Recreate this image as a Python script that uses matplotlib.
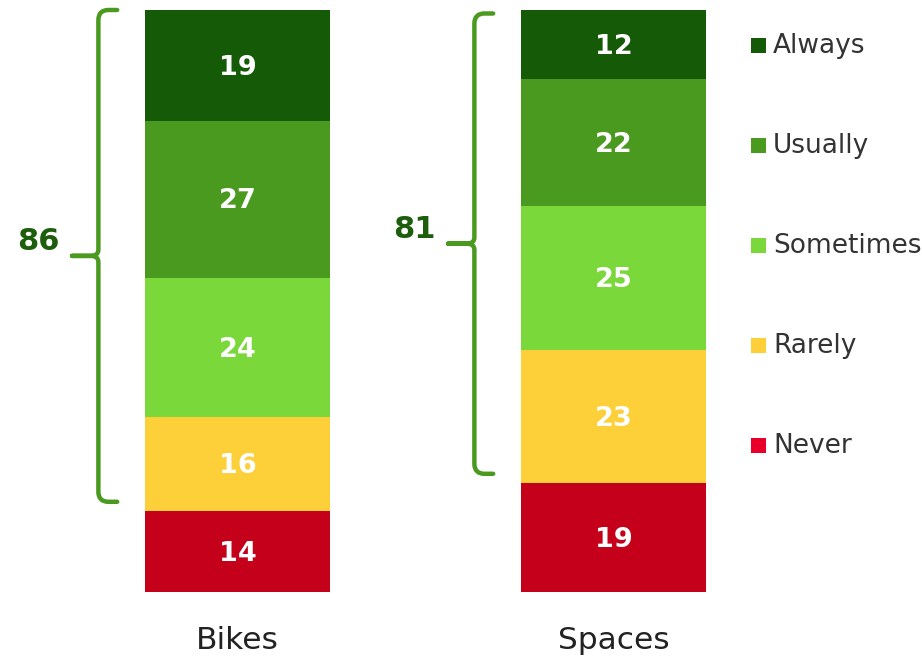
import matplotlib.pyplot as plt
from matplotlib.path import Path
from matplotlib.patches import PathPatch, Rectangle
import numpy as np

groups = ['Bikes', 'Spaces']
levels = ['Never', 'Rarely', 'Sometimes', 'Usually', 'Always']
bikes = [14, 16, 24, 27, 19]
spaces = [19, 23, 25, 22, 12]
totals = [86, 81]

colors = ['#c4001a', '#fdd03a', '#7ad83a', '#4a9a20', '#155a06']
legend_colors = ['#e8002b', '#fdd03a', '#7ad83a', '#4a9a20', '#155a06']
brace_color = '#4a9a20'
label_color = '#1d5e0c'

W, H = 922, 662
fig = plt.figure(figsize=(W / 100, H / 100), dpi=100)
ax = fig.add_axes([0, 0, 1, 1])

# pixel layout -> data scale
px_x = 376.0          # px per x unit
px_y = 5.82           # px per y unit
ax.set_xlim(-237.5 / px_x, (W - 237.5) / px_x)
ax.set_ylim(-70 / px_y, (H - 70) / px_y)
ax.axis('off')

width = 185 / px_x
data = [bikes, spaces]
for i, vals in enumerate(data):
    vals = np.array(vals, dtype=float)
    pct = vals / vals.sum() * 100
    bottom = 0.0
    for j, (v, p) in enumerate(zip(vals, pct)):
        ax.bar(i, p, width=width, bottom=bottom, color=colors[j], linewidth=0)
        ax.text(i, bottom + p / 2 - 0.4, f'{int(v)}', ha='center', va='center',
                color='white', fontsize=19.5, fontweight='bold')
        bottom += p
    ax.text(i, -8.3, groups[i], ha='center', va='center', fontsize=22.5,
            color='#222222')

    # brace over everything except "Never"
    top = 100.0 if i == 0 else 99.4
    low = pct[0] + 1.5
    mid = (top + low) / 2
    xv = i - 0.37
    xh = i - 0.32
    xt = i - 0.44
    rx = 10 / px_x
    ry = 10 / px_y
    tx = 8 / px_x
    ty = 6 / px_y
    verts = [
        (xh, top), (xv + rx, top), (xv, top), (xv, top - ry),
        (xv, mid + ty), (xv, mid), (xv - tx, mid),
        (xt, mid), (xv - tx, mid), (xv, mid), (xv, mid - ty),
        (xv, low + ry), (xv, low), (xv + rx, low), (xh, low),
    ]
    codes = [
        Path.MOVETO, Path.LINETO, Path.CURVE3, Path.CURVE3,
        Path.LINETO, Path.CURVE3, Path.CURVE3,
        Path.LINETO, Path.LINETO, Path.CURVE3, Path.CURVE3,
        Path.LINETO, Path.CURVE3, Path.CURVE3, Path.LINETO,
    ]
    ax.add_patch(PathPatch(Path(verts, codes), fill=False, edgecolor=brace_color,
                           linewidth=3.2, capstyle='round', joinstyle='round'))
    ax.text(i - 0.472, mid + 2.4, str(totals[i]), ha='right', va='center',
            fontsize=22, fontweight='bold', color=label_color)

# legend, top to bottom
for k, lvl in enumerate(levels[::-1]):
    yc = 45 + 100 * k
    fig.patches.append(Rectangle((751 / W, 1 - (yc + 7.5) / H), 15 / W, 15 / H,
                                 transform=fig.transFigure,
                                 color=legend_colors[::-1][k], linewidth=0))
    fig.text(773 / W, 1 - (yc + 1) / H, lvl, ha='left', va='center',
             fontsize=19, color='#333333')

fig.savefig('out.png', dpi=100)
